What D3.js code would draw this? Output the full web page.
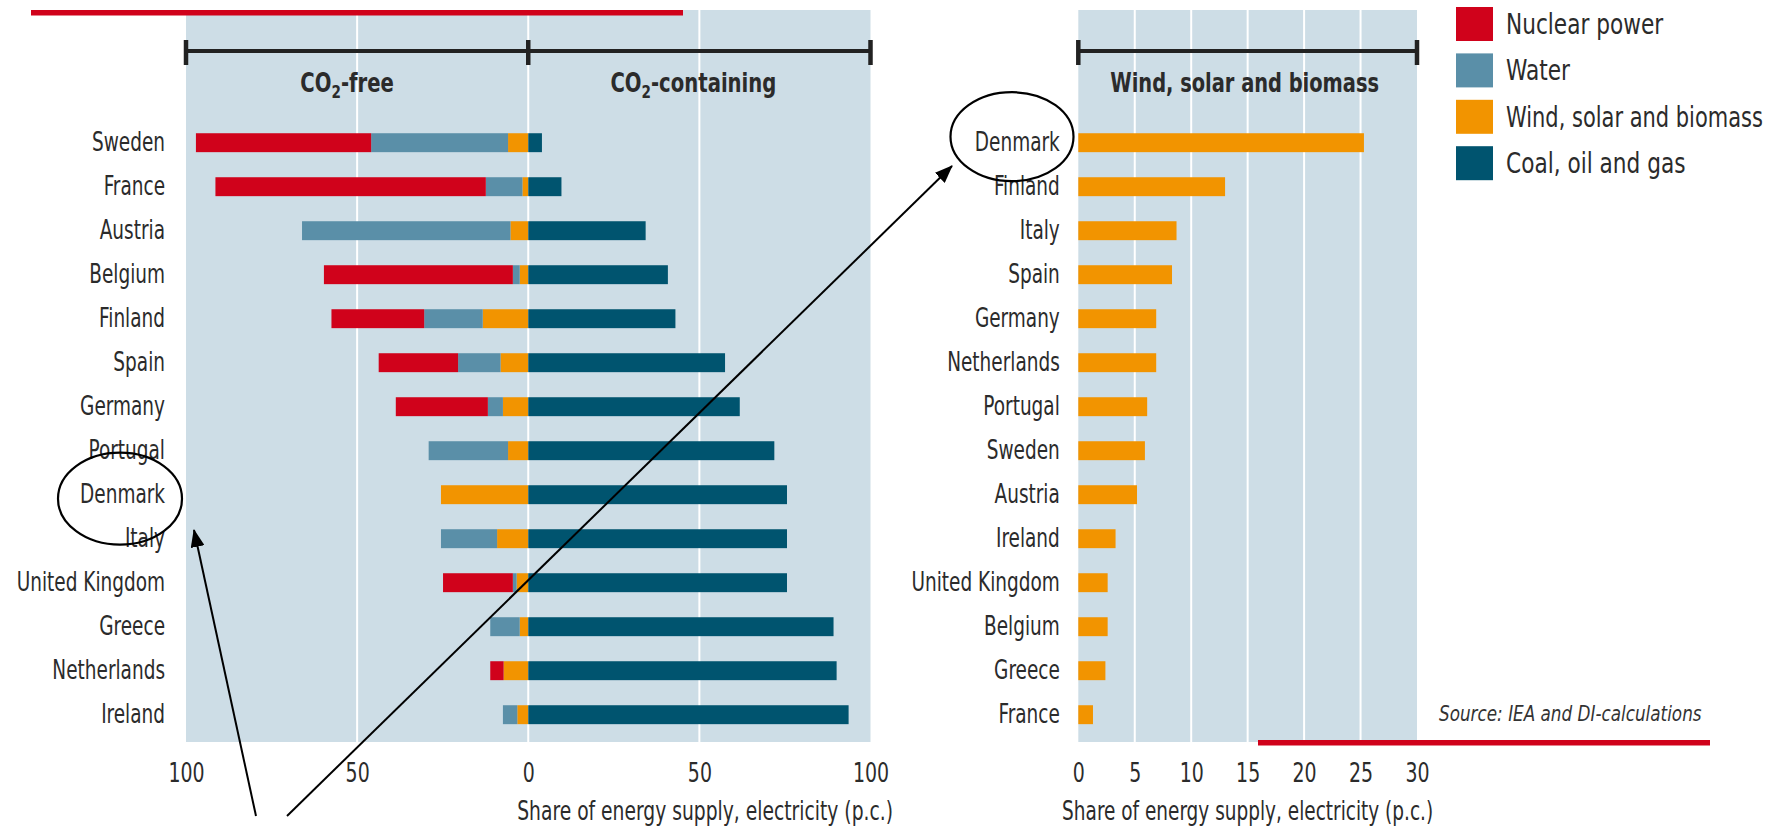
<!DOCTYPE html>
<html>
<head>
<meta charset="utf-8">
<script src="https://cdn.jsdelivr.net/npm/d3@7"></script>
<style>
  body { margin: 0; background: #fff; }
  svg { display: block; }
</style>
</head>
<body>
<script>
// countries in the order of the left chart (share of CO2-containing sources, ascending)
const countries = ["Sweden", "France", "Austria", "Belgium", "Finland", "Spain", "Germany",
  "Portugal", "Denmark", "Italy", "United Kingdom", "Greece", "Netherlands", "Ireland"];
const nuclear = [51.2, 79.0, 0, 55.2, 27.1, 23.2, 26.9, 0, 0, 0, 20.4, 0, 3.9, 0];
const water = [40.0, 10.7, 60.9, 2.0, 17.1, 12.4, 4.4, 23.2, 0, 16.4, 1.1, 8.6, 0, 4.2];
const renew = [5.9, 1.7, 5.2, 2.5, 13.3, 8.1, 7.4, 5.9, 25.5, 9.1, 3.4, 2.5, 7.2, 3.2];
const fossil = [4.0, 9.7, 34.3, 40.8, 43.0, 57.5, 61.8, 71.9, 75.6, 75.6, 75.6, 89.2, 90.1, 93.6];

// right chart: wind, solar and biomass only
const renewCountries = ["Denmark", "Finland", "Italy", "Spain", "Germany", "Netherlands", "Portugal",
  "Sweden", "Austria", "Ireland", "United Kingdom", "Belgium", "Greece", "France"];
const renewShare = [25.3, 13.0, 8.7, 8.3, 6.9, 6.9, 6.1, 5.9, 5.2, 3.3, 2.6, 2.6, 2.4, 1.3];

const leftTicks = [-100, -50, 0, 50, 100];
const leftGrid = [-50, 0, 50];
const rightTicks = [0, 5, 10, 15, 20, 25, 30];
const rightGrid = [5, 10, 15, 20, 25];

const legendLabels = ["Nuclear power", "Water", "Wind, solar and biomass", "Coal, oil and gas"];

const colors = {
  nuclear: "#d0021b",
  water: "#5a8fa8",
  renew: "#f29400",
  fossil: "#00546f"
};
const bgColor = "#cddde6";
const textColor = "#2b2b2b";
const redLine = "#d0021b";
const FONT = "'Liberation Sans Narrow', 'DejaVu Sans Condensed', 'Roboto Condensed', 'Arial Narrow', sans-serif";

const width = 1769, height = 829;
const svg = d3.select("body").append("svg")
  .attr("width", width)
  .attr("height", height)
  .style("font-family", FONT);

// the original uses a narrow typeface; squeeze the installed one to match
function condense(sel, k) {
  sel.each(function () {
    const w = this.getComputedTextLength() * k;
    d3.select(this)
      .attr("textLength", w)
      .attr("lengthAdjust", "spacingAndGlyphs");
  });
}

const panelTop = 10, panelBottom = 742;

const xL = d3.scaleLinear().domain([-100, 100]).range([186, 870.5]);
const xR = d3.scaleLinear().domain([0, 30]).range([1078.3, 1417]);
const y = d3.scaleBand().domain(countries).range([120.7, 736.7])
  .paddingInner(0.57).paddingOuter(0.285);
const yR = d3.scaleBand().domain(renewCountries).range([120.7, 736.7])
  .paddingInner(0.57).paddingOuter(0.285);

// panel backgrounds
svg.append("rect")
  .attr("x", xL(-100)).attr("y", panelTop)
  .attr("width", xL(100) - xL(-100)).attr("height", panelBottom - panelTop)
  .attr("fill", bgColor);
svg.append("rect")
  .attr("x", xR(0)).attr("y", panelTop)
  .attr("width", xR(30) - xR(0)).attr("height", panelBottom - panelTop)
  .attr("fill", bgColor);

// white grid lines
svg.selectAll(".gridL")
  .data(leftGrid)
  .enter().append("line")
  .attr("x1", d => xL(d)).attr("x2", d => xL(d))
  .attr("y1", panelTop).attr("y2", panelBottom)
  .attr("stroke", "#fff").attr("stroke-width", 2);
svg.selectAll(".gridR")
  .data(rightGrid)
  .enter().append("line")
  .attr("x1", d => xR(d)).attr("x2", d => xR(d))
  .attr("y1", panelTop).attr("y2", panelBottom)
  .attr("stroke", "#fff").attr("stroke-width", 2);

// left chart: CO2-free stacked to the left, fossil to the right
const rows = countries.map((c, i) => ({
  country: c, renew: renew[i], water: water[i], nuclear: nuclear[i], fossil: fossil[i]
}));
const stackFree = d3.stack().keys(["renew", "water", "nuclear"])(rows);

stackFree.forEach(series => {
  svg.append("g")
    .selectAll("rect")
    .data(series)
    .enter().append("rect")
    .attr("x", d => xL(-d[1]))
    .attr("width", d => xL(-d[0]) - xL(-d[1]))
    .attr("y", d => y(d.data.country))
    .attr("height", y.bandwidth())
    .attr("fill", colors[series.key]);
});

svg.append("g")
  .selectAll("rect")
  .data(rows)
  .enter().append("rect")
  .attr("x", xL(0))
  .attr("width", d => xL(d.fossil) - xL(0))
  .attr("y", d => y(d.country))
  .attr("height", y.bandwidth())
  .attr("fill", colors.fossil);

// right chart
svg.append("g")
  .selectAll("rect")
  .data(renewCountries)
  .enter().append("rect")
  .attr("x", xR(0))
  .attr("width", (d, i) => xR(renewShare[i]) - xR(0))
  .attr("y", d => yR(d))
  .attr("height", yR.bandwidth())
  .attr("fill", colors.renew);

// axes
function styleAxis(k) {
  return g => {
    g.select(".domain").remove();
    g.selectAll("text")
      .attr("fill", textColor)
      .style("font-family", FONT)
      .style("font-size", "26px")
      .call(condense, k);
  };
}

svg.append("g")
  .attr("transform", `translate(0,${panelBottom})`)
  .call(d3.axisBottom(xL).tickValues(leftTicks).tickFormat(d => Math.abs(d)).tickSize(0).tickPadding(21.5))
  .call(styleAxis(0.81));

svg.append("g")
  .attr("transform", `translate(0,${panelBottom})`)
  .call(d3.axisBottom(xR).tickValues(rightTicks).tickSize(0).tickPadding(21.5))
  .call(styleAxis(0.81));

svg.append("g")
  .attr("transform", `translate(${xL(-100)},0)`)
  .call(d3.axisLeft(y).tickSize(0).tickPadding(21))
  .call(styleAxis(0.79));

svg.append("g")
  .attr("transform", `translate(${xR(0)},0)`)
  .call(d3.axisLeft(yR).tickSize(0).tickPadding(18.5))
  .call(styleAxis(0.79));

// axis titles
svg.append("text")
  .attr("x", 893).attr("y", 820)
  .attr("text-anchor", "end")
  .attr("font-size", "26px")
  .attr("fill", textColor)
  .text("Share of energy supply, electricity (p.c.)")
  .call(condense, 0.8);

svg.append("text")
  .attr("x", (xR(0) + xR(30)) / 2).attr("y", 820)
  .attr("text-anchor", "middle")
  .attr("font-size", "26px")
  .attr("fill", textColor)
  .text("Share of energy supply, electricity (p.c.)")
  .call(condense, 0.79);

// brackets above the panels
const bracketY = 51;
function bracket(x0, x1, ticks) {
  svg.append("line")
    .attr("x1", x0).attr("x2", x1)
    .attr("y1", bracketY).attr("y2", bracketY)
    .attr("stroke", "#222").attr("stroke-width", 4);
  ticks.forEach(t => {
    svg.append("line")
      .attr("x1", t).attr("x2", t)
      .attr("y1", bracketY - 11).attr("y2", bracketY + 14)
      .attr("stroke", "#222").attr("stroke-width", 4.5);
  });
}
bracket(xL(-100), xL(100), [xL(-100), xL(0), xL(100)]);
bracket(xR(0), xR(30), [xR(0), xR(30)]);

// panel headers (CO2 with subscript, squeezed with a transform)
function co2Label(x, rest) {
  const t = svg.append("g")
    .attr("transform", `translate(${x},92) scale(0.84,1)`)
    .append("text")
    .attr("text-anchor", "middle")
    .attr("font-size", "26px")
    .attr("font-weight", "bold")
    .attr("fill", textColor);
  t.append("tspan").text("CO");
  t.append("tspan").attr("font-size", "18px").attr("dy", 6).text("2");
  t.append("tspan").attr("dy", -6).text(rest);
}
co2Label(xL(-50) - 10, "-free");
co2Label(xL(50) - 6, "-containing");

svg.append("text")
  .attr("x", xR(15) - 3).attr("y", 92)
  .attr("text-anchor", "middle")
  .attr("font-size", "26px")
  .attr("font-weight", "bold")
  .attr("fill", textColor)
  .text("Wind, solar and biomass")
  .call(condense, 0.83);

// legend (text squeezed with a transform; longest label kept inside the page)
const legendKeys = ["nuclear", "water", "renew", "fossil"];
const legendX = 1456, legendTextX = 1506, legendStep = 46.4;
legendKeys.forEach((k, i) => {
  svg.append("rect")
    .attr("x", legendX).attr("y", 7 + i * legendStep)
    .attr("width", 37).attr("height", 34)
    .attr("fill", colors[k]);
  const g = svg.append("g");
  const t = g.append("text")
    .attr("x", 0).attr("y", 0)
    .attr("dy", "0.35em")
    .attr("font-size", "28px")
    .attr("fill", textColor)
    .text(legendLabels[i]);
  const w = t.node().getComputedTextLength();
  const s = Math.min(0.86, (width - legendTextX - 6) / w);
  g.attr("transform", `translate(${legendTextX},${7 + i * legendStep + 17}) scale(${s},1)`);
});

// source
svg.append("text")
  .attr("x", 1439).attr("y", 721)
  .attr("font-size", "21px")
  .attr("font-style", "italic")
  .attr("fill", "#333")
  .text("Source: IEA and DI-calculations")
  .call(condense, 0.89);

// red rules
svg.append("line")
  .attr("x1", 31).attr("x2", 683)
  .attr("y1", 12.8).attr("y2", 12.8)
  .attr("stroke", redLine).attr("stroke-width", 5.5);
svg.append("line")
  .attr("x1", 1258).attr("x2", 1710)
  .attr("y1", 742.7).attr("y2", 742.7)
  .attr("stroke", redLine).attr("stroke-width", 5.5);

// annotations: circles round Denmark and arrows
const defs = svg.append("defs");
defs.append("marker")
  .attr("id", "arrow")
  .attr("markerUnits", "userSpaceOnUse")
  .attr("markerWidth", 18).attr("markerHeight", 14)
  .attr("refX", 17).attr("refY", 7)
  .attr("orient", "auto")
  .append("path")
  .attr("d", "M0,0 L18,7 L0,14 Z")
  .attr("fill", "#000");

const dkLeft = y("Denmark") + y.bandwidth() / 2;
const dkRight = yR("Denmark") + yR.bandwidth() / 2;

svg.append("ellipse")
  .attr("cx", 120).attr("cy", dkLeft + 4)
  .attr("rx", 62).attr("ry", 46)
  .attr("fill", "none").attr("stroke", "#000").attr("stroke-width", 2.2);
svg.append("ellipse")
  .attr("cx", 1012).attr("cy", dkRight - 6)
  .attr("rx", 61.5).attr("ry", 44.5)
  .attr("fill", "none").attr("stroke", "#000").attr("stroke-width", 2.2);

svg.append("line")
  .attr("x1", 256).attr("y1", 816)
  .attr("x2", 194).attr("y2", 530)
  .attr("stroke", "#000").attr("stroke-width", 2)
  .attr("marker-end", "url(#arrow)");
svg.append("line")
  .attr("x1", 287).attr("y1", 816)
  .attr("x2", 952).attr("y2", 166)
  .attr("stroke", "#000").attr("stroke-width", 2)
  .attr("marker-end", "url(#arrow)");
</script>
</body>
</html>
